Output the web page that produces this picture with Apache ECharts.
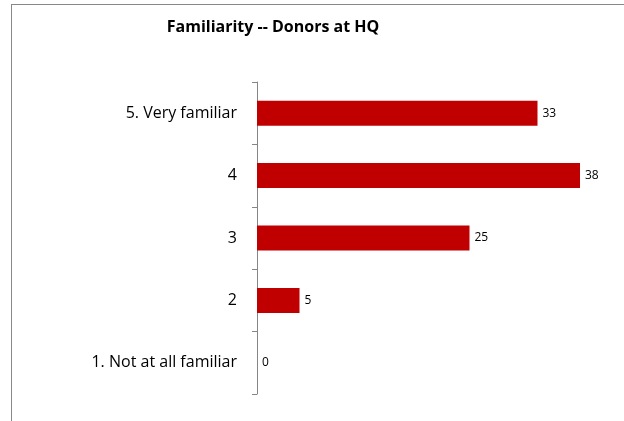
<!DOCTYPE html>
<html>
<head>
<meta charset="utf-8">
<script src="https://cdn.jsdelivr.net/npm/echarts@6/dist/echarts.min.js"></script>
<style>
  html, body { margin: 0; padding: 0; background: #fff; }
  #frame { position: absolute; left: 11px; top: 4px; width: 700px; height: 500px;
           border-left: 1px solid #888; border-top: 1px solid #888; }
  #main { position: absolute; left: 0; top: 0; width: 624px; height: 421px; }
</style>
</head>
<body>
<div id="frame"></div>
<div id="main"></div>
<script>
// 数据
var categories = ['1. Not at all familiar', '2', '3', '4', '5. Very familiar'];
var counts = [0, 5, 25, 38, 33];
var chartTitle = 'Familiarity -- Donors at HQ';

var chart = echarts.init(document.getElementById('main'));

var option = {
  animation: false,
  title: {
    text: chartTitle,
    left: 268,
    top: 14,
    textAlign: 'center',
    textStyle: {
      fontFamily: 'Open Sans',
      fontWeight: 'bold',
      fontSize: 16,
      color: '#000'
    }
  },
  grid: {
    left: 257,
    top: 82,
    width: 340,
    height: 312,
    containLabel: false
  },
  xAxis: {
    type: 'value',
    min: 0,
    max: 40,
    show: false
  },
  yAxis: {
    type: 'category',
    data: categories,
    axisLine: { show: true, lineStyle: { color: '#868686', width: 1 } },
    axisTick: { show: true, alignWithLabel: false, length: 5, lineStyle: { color: '#868686' } },
    axisLabel: {
      margin: 20,
      fontFamily: 'Open Sans',
      fontSize: 16,
      color: '#000'
    },
    splitLine: { show: false }
  },
  series: [{
    type: 'bar',
    data: counts,
    barWidth: 25,
    itemStyle: { color: '#C00000' },
    label: {
      show: true,
      position: 'right',
      distance: 5,
      fontFamily: 'Open Sans',
      fontSize: 12,
      color: '#000'
    }
  }]
};

chart.setOption(option);
</script>
</body>
</html>
